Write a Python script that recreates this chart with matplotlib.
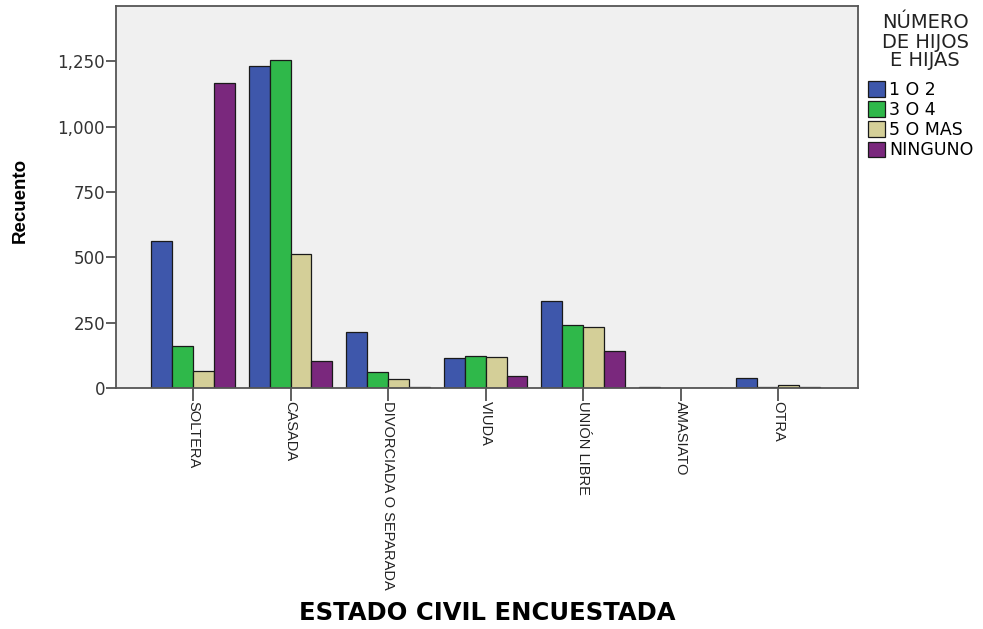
import matplotlib
matplotlib.use("Agg")
import matplotlib.pyplot as plt
import numpy as np

categories = ["SOLTERA", "CASADA", "DIVORCIADA O SEPARADA", "VIUDA", "UNIÓN LIBRE", "AMASIATO", "OTRA"]
series_names = ["1 O 2", "3 O 4", "5 O MAS", "NINGUNO"]
v_1o2 = [563, 1233, 213, 116, 333, 2, 37]
v_3o4 = [161, 1256, 60, 123, 241, 1, 3]
v_5omas = [65, 513, 34, 117, 234, 1, 12]
v_ninguno = [1168, 103, 3, 47, 142, 1, 2]
colors = ["#3e57ab", "#2fb84a", "#d4cf98", "#7a287d"]

plt.rcParams['font.family'] = ['DejaVu Sans']

fig = plt.figure(figsize=(9.83, 6.29), dpi=100)
ax = fig.add_axes([116/983, 1-388/629, (858-116)/983, (388-6)/629])
ax.set_facecolor("#f0f0f0")

x = np.arange(len(categories))
w = 0.215
data = [v_1o2, v_3o4, v_5omas, v_ninguno]
for i, (vals, c, n) in enumerate(zip(data, colors, series_names)):
    ax.bar(x + (i - 1.5) * w, vals, width=w, color=c, edgecolor="#1a1a1a", linewidth=0.9, label=n)

ax.set_xlim(-0.79, 6.82)
ax.set_ylim(0, 1462)
ax.set_yticks([0, 250, 500, 750, 1000, 1250])
ax.set_yticklabels(["0", "250", "500", "750", "1,000", "1,250"], fontsize=12, color="#333333")
ax.set_xticks(x)
ax.set_xticklabels(categories, rotation=270, fontsize=10.5, color="#222222", va="top", ha="center",
                   family=["Liberation Sans", "DejaVu Sans"])
ax.tick_params(axis="y", direction="out", length=7, width=1.2, color="#444444", pad=1)
ax.tick_params(axis="x", direction="out", length=9, width=1.2, color="#444444", pad=0.5)
for s in ax.spines.values():
    s.set_color("#555555")
    s.set_linewidth(1.3)

fig.text(20/983, 1-200/629, "Recuento", rotation=90, fontsize=13.5, fontweight="bold", ha="center", va="center",
         family=["Liberation Sans", "DejaVu Sans"])
fig.text(487/983, 1-613/629, "ESTADO CIVIL ENCUESTADA", fontsize=17.5, fontweight="bold", ha="center", va="center")

fig.text(925/983, 1-42/629, "NÚMERO\nDE HIJOS\nE HIJAS", fontsize=14, color="#222222",
         ha="center", va="center", multialignment="center", linespacing=1.0)

leg = fig.legend(loc="upper left", bbox_to_anchor=(868/983, 1-81/629), frameon=False,
                 fontsize=12.5, handlelength=1.0, handleheight=1.0, handletextpad=0.2,
                 labelspacing=0.12, borderaxespad=0, borderpad=0)

fig.savefig("out.png", dpi=100)
